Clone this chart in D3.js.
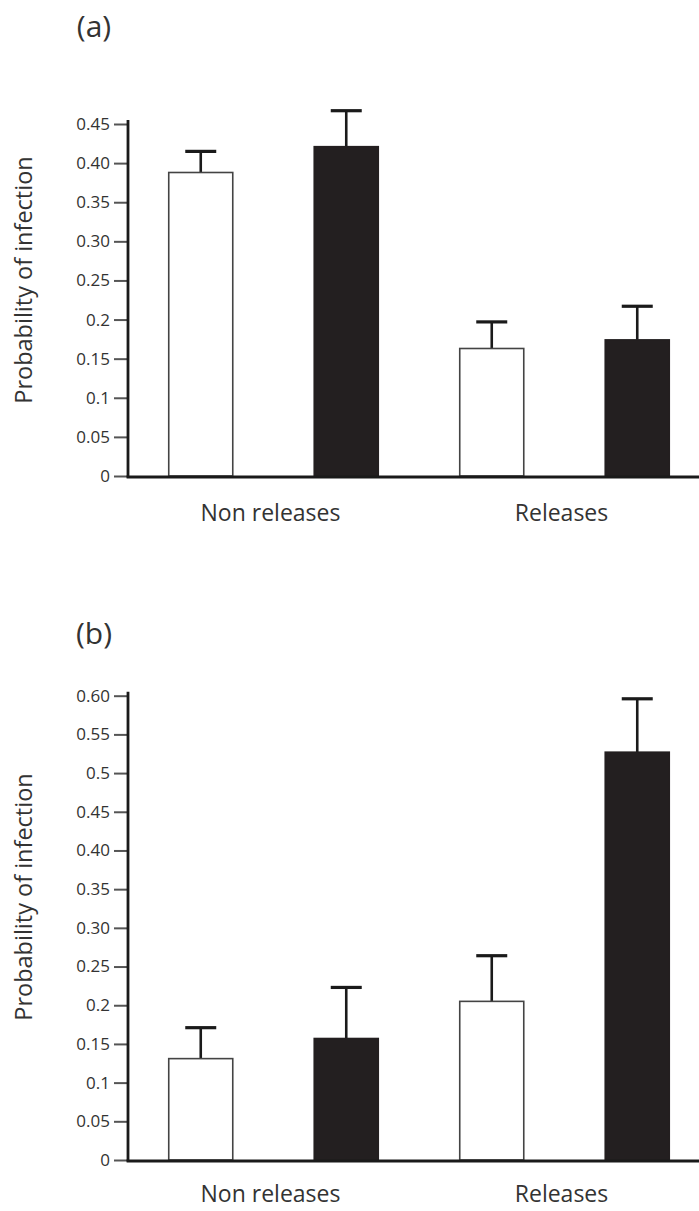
<!DOCTYPE html>
<html>
<head>
<meta charset="utf-8">
<script src="https://cdn.jsdelivr.net/npm/d3@7"></script>
<style>
  html, body { margin: 0; padding: 0; background: #fff; }
  svg { display: block; }
  text { font-family: "Open Sans", "Noto Sans", sans-serif; fill: #333; }
</style>
</head>
<body>
<svg id="chart" width="699" height="1211"></svg>
<script>
// ---- data ----
const categories = ["Non releases", "Releases"];
const series = ["open", "filled"];
const panelLabels = ["(a)", "(b)"];
const yLabel = "Probability of infection";

// panel (a)
const aOpen = [0.388, 0.163];
const aFilled = [0.421, 0.174];
const aOpenErr = [0.027, 0.034];
const aFilledErr = [0.046, 0.043];
const aTickValues = [0, 0.05, 0.1, 0.15, 0.2, 0.25, 0.3, 0.35, 0.4, 0.45];
const aTickLabels = ["0", "0.05", "0.1", "0.15", "0.2", "0.25", "0.30", "0.35", "0.40", "0.45"];

// panel (b)
const bOpen = [0.131, 0.205];
const bFilled = [0.157, 0.527];
const bOpenErr = [0.040, 0.059];
const bFilledErr = [0.066, 0.069];
const bTickValues = [0, 0.05, 0.1, 0.15, 0.2, 0.25, 0.3, 0.35, 0.4, 0.45, 0.5, 0.55, 0.6];
const bTickLabels = ["0", "0.05", "0.1", "0.15", "0.2", "0.25", "0.30", "0.35", "0.40", "0.45", "0.5", "0.55", "0.60"];

const svg = d3.select("#chart");

function drawPanel(cfg) {
  const g = svg.append("g");
  const x0 = d3.scaleBand().domain(categories).range([128, 710]).paddingInner(0).paddingOuter(0);
  const x1 = d3.scaleBand().domain(series).range([0, x0.bandwidth()]).paddingInner(0.56).paddingOuter(0.28);
  const y = d3.scaleLinear().domain([0, cfg.max]).range([cfg.y0, cfg.yTop]);

  const rows = [];
  categories.forEach((c, i) => {
    rows.push({cat: c, s: "open", v: cfg.open[i], e: cfg.openErr[i]});
    rows.push({cat: c, s: "filled", v: cfg.filled[i], e: cfg.filledErr[i]});
  });

  // error bars
  const capW = 31;
  rows.forEach(d => {
    const cx = x0(d.cat) + x1(d.s) + x1.bandwidth() / 2;
    g.append("line")
      .attr("x1", cx).attr("x2", cx)
      .attr("y1", y(d.v)).attr("y2", y(d.v + d.e))
      .attr("stroke", "#1a1a1a").attr("stroke-width", 2.6);
    g.append("line")
      .attr("x1", cx - capW / 2).attr("x2", cx + capW / 2)
      .attr("y1", y(d.v + d.e)).attr("y2", y(d.v + d.e))
      .attr("stroke", "#1a1a1a").attr("stroke-width", 3.2);
  });

  // bars
  g.selectAll("rect.bar").data(rows).join("rect")
    .attr("class", "bar")
    .attr("x", d => x0(d.cat) + x1(d.s))
    .attr("width", x1.bandwidth())
    .attr("y", d => y(d.v))
    .attr("height", d => y(0) - y(d.v))
    .attr("fill", d => d.s === "open" ? "#fff" : "#231f20")
    .attr("stroke", d => d.s === "open" ? "#444" : "#231f20")
    .attr("stroke-width", 1.6);

  // y axis
  const yAxis = d3.axisLeft(y)
    .tickValues(cfg.ticks)
    .tickFormat((d, i) => cfg.tickLabels[i])
    .tickSize(14)
    .tickPadding(4);
  const ya = g.append("g").attr("transform", "translate(128,0)").call(yAxis);
  ya.select(".domain").remove();
  ya.selectAll(".tick line").attr("stroke", "#555").attr("stroke-width", 2);
  ya.selectAll(".tick text").style("font-size", "17px").attr("fill", "#444")
    .style("font-family", "'Open Sans', sans-serif");
  // axis lines
  g.append("line").attr("x1", 128).attr("x2", 128)
    .attr("y1", y(0) + 1.5).attr("y2", cfg.yTop - 4)
    .attr("stroke", "#1a1a1a").attr("stroke-width", 2.8);
  g.append("line").attr("x1", 126.6).attr("x2", 699)
    .attr("y1", y(0) + 1).attr("y2", y(0) + 1)
    .attr("stroke", "#1a1a1a").attr("stroke-width", 2.8);

  // category labels
  g.selectAll("text.cat").data(categories).join("text")
    .attr("class", "cat")
    .attr("x", d => x0(d) + x0.bandwidth() / 2 - 3)
    .attr("y", cfg.catY)
    .attr("text-anchor", "middle")
    .style("font-size", "23px")
    .text(d => d);

  // y label
  g.append("text")
    .attr("transform", `translate(32,${cfg.yLabelY}) rotate(-90)`)
    .attr("text-anchor", "middle")
    .style("font-size", "23.5px")
    .text(yLabel);

  // panel label
  g.append("text")
    .attr("x", 94).attr("y", cfg.panelY)
    .attr("text-anchor", "middle")
    .style("font-size", "30px")
    .text(cfg.label);
}

drawPanel({open: aOpen, filled: aFilled, openErr: aOpenErr, filledErr: aFilledErr,
  max: 0.45, y0: 476, yTop: 124, ticks: aTickValues, tickLabels: aTickLabels,
  yLabelY: 280, label: panelLabels[0], panelY: 37, catY: 521});
drawPanel({open: bOpen, filled: bFilled, openErr: bOpenErr, filledErr: bFilledErr,
  max: 0.6, y0: 1160, yTop: 695.7, ticks: bTickValues, tickLabels: bTickLabels,
  yLabelY: 897, label: panelLabels[1], panelY: 644, catY: 1202});
</script>
</body>
</html>
